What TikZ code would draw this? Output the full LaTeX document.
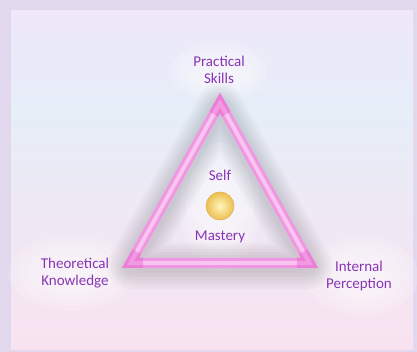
\documentclass[tikz,border=0pt]{standalone}
\usepackage{fontspec}
\setmainfont{Carlito}
\usetikzlibrary{positioning,calc}
\definecolor{framecol}{RGB}{226,216,238}
\definecolor{skytop}{RGB}{238,232,248}
\definecolor{skymid}{RGB}{230,238,248}
\definecolor{skybot}{RGB}{249,226,240}
\definecolor{labelcol}{RGB}{136,52,182}
\definecolor{pinkdark}{RGB}{240,150,226}
\definecolor{pinklight}{RGB}{250,196,240}
\definecolor{pinkcorner}{RGB}{232,90,204}
\definecolor{ballin}{RGB}{255,246,190}
\definecolor{ballout}{RGB}{236,190,80}
\tikzset{
    label/.style={
        text=labelcol,
        font=\fontsize{15}{16.5}\selectfont,
        align=center,
        inner sep=1pt
    },
    cloud/.style={
        fill=white,
        draw=none,
        opacity=0.16
    },
    glow/.style={
        draw=black,
        opacity=0.022,
        line join=round
    },
    corner/.style={
        draw=pinkcorner,
        opacity=0.4,
        line width=10pt,
        line join=miter
    }
}

\begin{document}
\begin{tikzpicture}[x=1pt,y=-1pt]

\useasboundingbox (0,0) rectangle (417,352);

% frame and sky
\fill[framecol] (0,0) rectangle (417,352);
\shade[top color=skytop,bottom color=skymid] (11,11) rectangle (413,110);
\shade[top color=skymid,bottom color=skybot] (11,110) rectangle (413,349);

\coordinate (top) at (220,103);
\coordinate (left) at (130.5,263);
\coordinate (right) at (309.5,263);

% clouds behind the labels
\foreach \r in {1.0,0.85,0.7,0.55,0.4} {
    \fill[cloud] (219,72) ellipse ({48*\r} and {30*\r});
    \fill[cloud] (72,273) ellipse ({64*\r} and {38*\r});
    \fill[cloud] (362,276) ellipse ({56*\r} and {40*\r});
    \fill[cloud] (220,206) ellipse ({40*\r} and {64*\r});
}

% shadow round the triangle
\foreach \w in {46,40,34,28,22,16} {
    \draw[glow,line width=\w pt] ([yshift=-3pt]top) -- ([yshift=-3pt]right) -- ([yshift=-3pt]left) -- cycle;
}

% the triangle
\draw[pinkdark,line width=10pt,line join=miter] (top) -- (right) -- (left) -- cycle;
\draw[pinklight,line width=4pt,line join=miter] (top) -- (right) -- (left) -- cycle;
\draw[corner] ($(top)!0.07!(left)$) -- (top) -- ($(top)!0.07!(right)$);
\draw[corner] ($(left)!0.07!(top)$) -- (left) -- ($(left)!0.07!(right)$);
\draw[corner] ($(right)!0.07!(top)$) -- (right) -- ($(right)!0.07!(left)$);

% centre
\node[label] (self) at (220,175) {Self};
\shade[inner color=ballin,outer color=ballout,draw=ballout!70!brown] (220,206) circle (14);
\coordinate (ball) at (220,206);
\node[label] (mastery) at (220,237) {Mastery};

\node[label] (skills) at (219,70) {Practical\\Skills};
\node[label] (theory) at (75,273) {Theoretical\\Knowledge};
\node[label] (percep) at (359,276) {Internal\\Perception};

\end{tikzpicture}
\end{document}
